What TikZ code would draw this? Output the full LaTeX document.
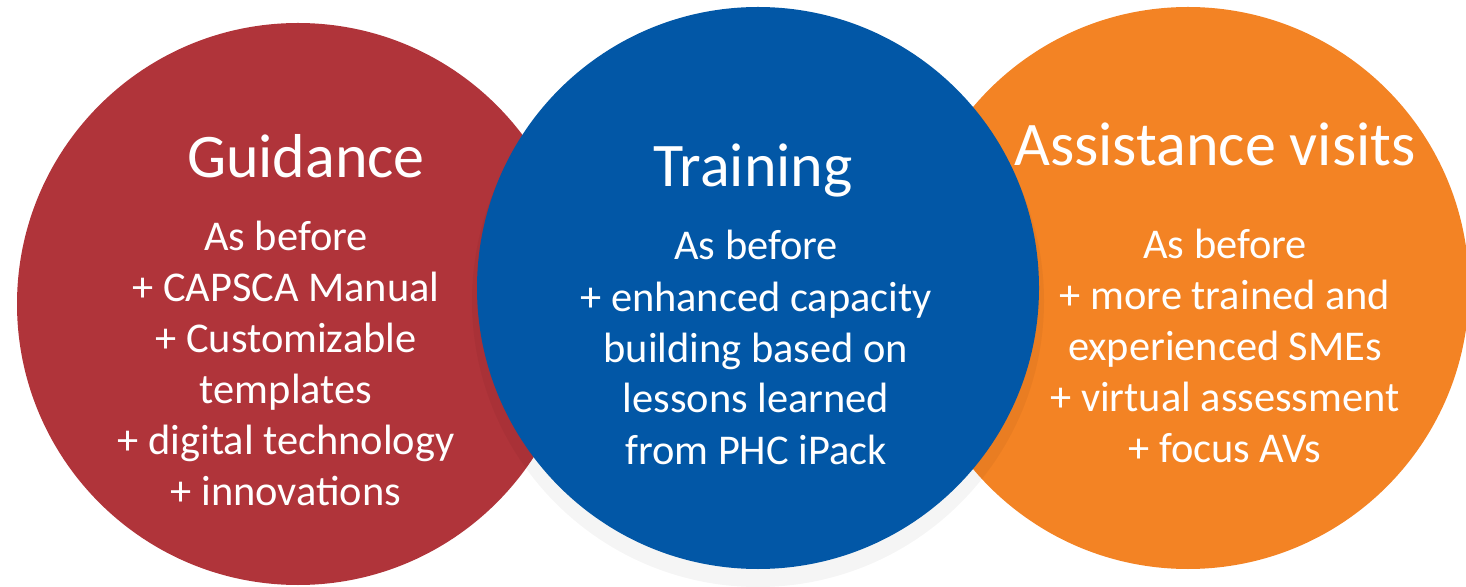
\documentclass[tikz,border=0pt]{standalone}
\usepackage{fontspec}
\setmainfont{Carlito}
\usepackage{tikz}
\definecolor{capred}{RGB}{176,52,58}
\definecolor{capblue}{RGB}{2,87,166}
\definecolor{caporange}{RGB}{243,131,36}
\tikzset{
  blob/.style={circle,inner sep=0pt,minimum size=281pt},
  headtext/.style={white,anchor=base,inner sep=0pt,font=\fontsize{31}{37}\selectfont},
  bodytext/.style={white,anchor=base,inner sep=0pt,align=center,font=\fontsize{21.2}{25.5}\selectfont}
}
\begin{document}
\begin{tikzpicture}[x=0.5pt,y=-0.5pt]
\clip (0,0) rectangle (1466,587);
%Circles
\node at (298,304) [blob,fill=capred] (Circle1) {};
\node at (1188,288) [blob,fill=caporange] (Circle3) {};
\fill [black,opacity=0.04] (758,301) circle (143pt);
\node at (758,288) [blob,fill=capblue] (Circle2) {};
%Titles
\node at (306,178) [headtext] (Title1) {Guidance};
\node at (753,187) [headtext] (Title2) {Training};
\node at (1215,166) [headtext] (Title3) {Assistance visits};
%Lists (anchored at the last line)
\node at (286,505) [bodytext] (List1) {As before\\+ CAPSCA Manual\\+ Customizable\\templates\\+ digital technology\\+ innovations};
\node at (756,464) [bodytext] (List2) {As before\\+ enhanced capacity\\building based on\\lessons learned\\from PHC iPack};
\node at (1225,462) [bodytext] (List3) {As before\\+ more trained and\\experienced SMEs\\+ virtual assessment\\+ focus AVs};
\end{tikzpicture}
\end{document}
